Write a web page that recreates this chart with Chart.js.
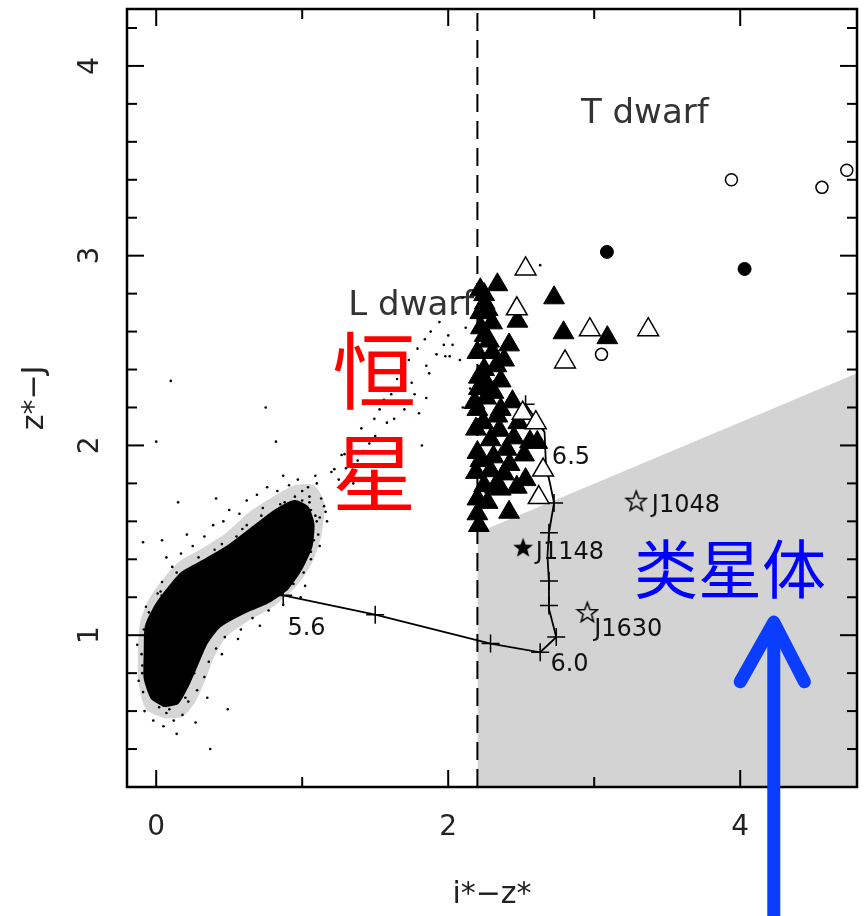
<!DOCTYPE html>
<html><head><meta charset="utf-8">
<script src="https://cdn.jsdelivr.net/npm/chart.js@4"></script>
<style>html,body{margin:0;padding:0;background:#fff}canvas{display:block}</style>
</head><body>
<canvas id="c" width="864" height="916"></canvas>
<script>
// ---------- data ----------
const xTickLabels = [0, 2, 4];
const xMinorTicks = [1, 3];
const yTickLabels = [1, 2, 3, 4];
const yMinorTicks = [0.4,0.6,0.8,1.2,1.4,1.6,1.8,2.2,2.4,2.6,2.8,3.2,3.4,3.6,3.8,4.2];
const xRange = [-0.2, 4.8];
const yRange = [0.2, 4.3];
const cutLine = [[2.2, 0.2], [2.2, 4.3]];
const quasarBoundary = [[2.2, 1.54], [4.8, 2.38]];

// dense core of the stellar locus
const stellarCloudOutline = [
 [0.058,0.625],[-0.031,0.667],[-0.079,0.772],[-0.079,0.903],[-0.072,1.045],[-0.017,1.140],
 [0.058,1.224],[0.174,1.329],[0.332,1.397],[0.503,1.476],[0.674,1.576],[0.810,1.655],
 [0.947,1.707],[1.036,1.676],[1.077,1.587],[1.063,1.466],[0.995,1.350],[0.899,1.245],
 [0.762,1.171],[0.591,1.114],[0.434,1.045],[0.345,0.956],[0.284,0.850],[0.215,0.730],
 [0.147,0.641],[0.058,0.625]
];
// sparse envelope around the core
const stellarCloudHalo = [
 [0.06,0.56],[-0.07,0.61],[-0.12,0.75],[-0.125,0.92],[-0.11,1.07],[-0.05,1.19],[0.04,1.29],
 [0.16,1.39],[0.32,1.46],[0.48,1.54],[0.64,1.65],[0.80,1.73],[0.95,1.79],[1.08,1.79],[1.15,1.70],
 [1.13,1.52],[1.06,1.37],[0.95,1.25],[0.80,1.15],[0.62,1.07],[0.48,0.99],[0.40,0.89],[0.34,0.77],
 [0.27,0.65],[0.18,0.57],[0.06,0.56]
];
const stellarScatter = [
 [-0.12,0.76],[-0.095,0.84],[-0.13,0.95],[-0.085,1.03],[-0.04,1.09],[-0.07,1.15],[0.01,1.22],[0.04,1.28],
 [0.11,1.36],[0.07,1.41],[0.17,1.43],[0.25,1.47],[0.21,1.53],[0.33,1.52],[0.39,1.58],[0.46,1.60],
 [0.50,1.66],[0.57,1.64],[0.62,1.71],[0.69,1.74],[0.76,1.78],[0.83,1.76],[0.91,1.79],[0.97,1.82],
 [1.04,1.78],[1.09,1.84],[1.13,1.72],[1.16,1.65],[1.11,1.53],[1.12,1.47],[1.06,1.40],[1.01,1.33],
 [0.94,1.27],[0.87,1.16],[0.77,1.13],[0.66,1.09],[0.58,1.03],[0.47,0.99],[0.41,0.93],[0.36,0.86],
 [0.33,0.78],[0.28,0.71],[0.22,0.65],[0.18,0.58],[0.12,0.55],[0.05,0.52],[-0.02,0.55],[-0.08,0.60],
 [0.27,0.54],[0.14,0.48],[0.30,1.00],[0.52,1.13],[0.45,0.90],[0.56,0.98],[0.71,1.05],[0.99,1.20],
 [1.05,1.52],[1.02,1.26],
 [-0.095,0.80],[-0.10,0.90],[-0.08,1.00],[-0.02,1.11],[0.05,1.20],[0.13,1.28],[0.25,1.36],[0.40,1.45],
 [0.55,1.52],[0.62,1.58],[0.72,1.63],[0.85,1.69],[0.95,1.73],[1.05,1.70],[1.10,1.60],[1.08,1.50],
 [1.01,1.40],[0.91,1.30],[0.80,1.22],[0.65,1.18],[0.52,1.13],[0.40,1.06],[0.32,0.97],[0.27,0.86],
 [0.21,0.75],[0.15,0.66],[0.09,0.61],[0.02,0.62],
 [-0.09,0.70],[0.07,0.59],[0.20,0.67],[0.26,0.80],[0.31,0.92],[0.44,1.09],[0.61,1.17],[0.83,1.25],
 [0.96,1.34],[1.06,1.44],[1.09,1.63],[1.00,1.71],[0.88,1.70],[0.73,1.67],[0.59,1.56],[0.45,1.48],
 [0.29,1.41],[0.14,1.33],[0.03,1.23],[-0.05,1.12],
 [1.06,1.66],[1.12,1.62],[1.15,1.68],[1.05,1.73],[1.00,1.76],[1.10,1.80],[1.20,1.86],[1.17,1.60],
 [1.22,1.875],[1.29,1.954],[1.32,2.03],[1.38,1.92],[1.405,2.09],[1.46,2.01],[1.494,2.14],[1.53,2.19],
 [1.56,2.24],[1.61,2.27],[1.65,2.35],[1.70,2.39],[1.73,2.45],[1.79,2.51],[1.84,2.56],[1.88,2.60],
 [1.94,2.65],[1.97,2.53],[1.63,2.14],[1.70,2.19],[1.77,2.27],[1.25,1.82],[1.30,1.88],[1.35,1.80],
 [1.27,1.95],[1.42,1.97],[1.50,2.05],[1.58,2.12],[1.66,2.22],[1.75,2.33],[1.85,2.42],[1.92,2.48],
 [2.00,2.58],[2.05,2.70],[2.10,2.78],[2.12,2.62],[2.08,2.45],[2.15,2.30],[2.10,2.20],[1.87,2.38],
 [2.01,2.47],[1.85,2.25],[1.80,2.17],[1.82,2.00],
 [0.10,2.34],[0.00,2.02],[0.75,2.20],[0.82,2.02],[0.15,1.70],[0.41,1.72],[0.87,1.84],[-0.09,1.49],
 [0.04,1.50],[0.35,0.67],[0.37,0.40],[0.49,0.61],[2.63,2.95],[2.03,2.53],[1.98,2.47]
];

const locusLine = [
 [0.09,1.21],[0.87,1.21],[1.50,1.108],[2.29,0.956],[2.63,0.91],[2.74,0.99],[2.72,1.05],[2.69,1.14],
 [2.69,1.28],[2.68,1.42],[2.69,1.54],[2.725,1.697],[2.70,1.79],[2.67,1.89],[2.66,2.07],[2.53,2.217]
];
const locusCrosses = [
 [0.09,1.21],[0.87,1.21],[1.50,1.108],[2.29,0.956],[2.63,0.91],[2.74,0.99],[2.69,1.157],[2.69,1.285],
 [2.69,1.54],[2.725,1.697],[2.53,2.217]
];
const lDwarfFilled = [
 [2.337,2.847],[2.246,2.795],[2.725,2.778],[2.27,2.716],[2.474,2.655],[2.30,2.646],[2.224,2.62],
 [2.79,2.594],[3.09,2.568],[2.417,2.53],[2.20,2.49],[2.303,2.49],[2.383,2.45],[2.246,2.40],[2.36,2.34],
 [2.21,2.30],[2.31,2.28],[2.18,2.226],[2.36,2.19],[2.20,2.19],[2.337,2.155],[2.19,2.086],[2.45,2.04],
 [2.29,2.03],[2.61,2.016],[2.20,1.963],[2.19,1.858],[2.29,1.867],[2.383,1.85],[2.53,1.82],[2.246,1.788],
 [2.36,1.77],[2.20,1.718],[2.417,1.648],[2.20,1.64],[2.21,1.578],
 [2.22,2.70],[2.25,2.58],[2.28,2.55],[2.21,2.36],[2.26,2.33],[2.33,2.42],[2.24,2.12],[2.26,2.25],
 [2.35,2.08],[2.22,1.92],[2.31,1.94],[2.27,1.70],[2.32,1.78],[2.42,1.90],[2.47,1.78],[2.40,1.98],
 [2.22,2.82],[2.25,2.75],[2.48,2.12],[2.52,1.95],[2.44,2.23],[2.56,2.02]
];
const lDwarfOpen = [
 [2.53,2.93],[2.47,2.72],[2.97,2.61],[3.37,2.61],[2.80,2.44],[2.51,2.17],[2.60,2.12],[2.65,1.87],[2.62,1.725]
];
const tDwarfFilled = [[3.087,3.02],[4.03,2.93]];
const tDwarfOpen = [[3.94,3.40],[4.56,3.36],[4.73,3.45],[3.05,2.48]];
const quasarOpenStars = [[3.288,1.709],[2.953,1.122]];
const quasarFilledStars = [[2.513,1.464]];

const pointLabels = [
 {text:'J1048', x:3.395, y:1.65},
 {text:'J1148', x:2.60,  y:1.40},
 {text:'J1630', x:3.00,  y:0.998},
 {text:'5.6',   x:0.899, y:1.00},
 {text:'6.0',   x:2.70,  y:0.81},
 {text:'6.5',   x:2.71,  y:1.90}
];
const regionLabels = [
 {text:'T dwarf', x:2.909, y:3.699},
 {text:'L dwarf', x:1.316, y:2.685}
];
const cnLabels = [
 {text:'恒', x:1.494, y:2.39, color:'#ff0000', size:84},
 {text:'星', x:1.494, y:1.854, color:'#ff0000', size:84},
 {text:'类星体', x:3.93, y:1.35, color:'#0000ff', size:64}
];
const arrowTip = [4.23, 1.09];
const arrowArms = [[4.0, 0.755], [4.44, 0.755]];

// ---------- helpers ----------
const pts = a => a.map(([x, y]) => ({x, y}));
function makeStar(size, filled) {
  const c = document.createElement('canvas');
  c.width = c.height = size;
  const g = c.getContext('2d');
  const cx = size / 2, cy = size / 2 + 1, R = size / 2 - 1.5, r = R * 0.42;
  g.beginPath();
  for (let i = 0; i < 10; i++) {
    const a = -Math.PI / 2 + i * Math.PI / 5;
    const rr = i % 2 ? r : R;
    const px = cx + rr * Math.cos(a), py = cy + rr * Math.sin(a);
    i ? g.lineTo(px, py) : g.moveTo(px, py);
  }
  g.closePath();
  if (filled) { g.fillStyle = '#000'; g.fill(); }
  else { g.lineWidth = 1.5; g.strokeStyle = '#000'; g.stroke(); }
  return c;
}
const openStar = makeStar(24, false);
const filledStar = makeStar(24, true);

const decor = {
  id: 'decor',
  beforeDatasetsDraw(chart) {
    const {ctx, scales: {x, y}} = chart;
    ctx.save();
    ctx.fillStyle = '#333';
    ctx.font = '34px "DejaVu Sans"';
    ctx.textAlign = 'left'; ctx.textBaseline = 'alphabetic';
    regionLabels.forEach(l => ctx.fillText(l.text, x.getPixelForValue(l.x), y.getPixelForValue(l.y)));
    ctx.restore();
  },
  afterDatasetsDraw(chart) {
    const {ctx, scales: {x, y}} = chart;
    ctx.save();
    ctx.fillStyle = '#111';
    ctx.font = '24px "DejaVu Sans"';
    ctx.textAlign = 'left'; ctx.textBaseline = 'alphabetic';
    pointLabels.forEach(l => ctx.fillText(l.text, x.getPixelForValue(l.x), y.getPixelForValue(l.y)));
    ctx.textAlign = 'center'; ctx.textBaseline = 'middle';
    cnLabels.forEach(l => {
      ctx.fillStyle = l.color;
      ctx.font = l.size + 'px "Noto Sans CJK SC"';
      ctx.fillText(l.text, x.getPixelForValue(l.x), y.getPixelForValue(l.y));
    });
    ctx.restore();
  },
  afterDraw(chart) {
    const {ctx, chartArea: {left, right, top, bottom}, scales: {x, y}} = chart;
    ctx.save();
    ctx.strokeStyle = '#000';
    ctx.lineWidth = 2;
    const tick = (x1, y1, x2, y2) => { ctx.beginPath(); ctx.moveTo(x1, y1); ctx.lineTo(x2, y2); ctx.stroke(); };
    xTickLabels.forEach(v => { const p = x.getPixelForValue(v); tick(p, bottom, p, bottom - 17); tick(p, top, p, top + 17); });
    xMinorTicks.forEach(v => { const p = x.getPixelForValue(v); tick(p, bottom, p, bottom - 10); tick(p, top, p, top + 10); });
    yTickLabels.forEach(v => { const p = y.getPixelForValue(v); tick(left, p, left + 17, p); tick(right, p, right - 17, p); });
    yMinorTicks.forEach(v => { const p = y.getPixelForValue(v); tick(left, p, left + 10, p); tick(right, p, right - 10, p); });
    ctx.lineWidth = 2.5;
    ctx.strokeRect(left, top, right - left, bottom - top);
    // blue arrow
    const tx = x.getPixelForValue(arrowTip[0]), ty = y.getPixelForValue(arrowTip[1]);
    ctx.strokeStyle = '#0a3dff';
    ctx.lineWidth = 13; ctx.lineCap = 'round'; ctx.lineJoin = 'round';
    ctx.beginPath();
    ctx.moveTo(x.getPixelForValue(arrowArms[0][0]), y.getPixelForValue(arrowArms[0][1]));
    ctx.lineTo(tx, ty + 4);
    ctx.lineTo(x.getPixelForValue(arrowArms[1][0]), y.getPixelForValue(arrowArms[1][1]));
    ctx.stroke();
    ctx.lineCap = 'butt';
    ctx.beginPath(); ctx.moveTo(tx, ty + 8); ctx.lineTo(tx, chart.height + 5); ctx.stroke();
    ctx.restore();
  }
};

new Chart(document.getElementById('c'), {
  type: 'line',
  data: {
    datasets: [
      {data: pts(quasarBoundary), order: 10, borderWidth: 0, pointRadius: 0, fill: 'start', backgroundColor: '#d3d3d3', borderColor: 'rgba(0,0,0,0)'},
      {data: pts(cutLine), order: 9, borderWidth: 2, borderDash: [18, 9], borderColor: '#000', pointRadius: 0, fill: false},
      {data: pts(stellarCloudHalo), order: 8.5, borderWidth: 0, borderColor: 'rgba(0,0,0,0)', backgroundColor: 'rgba(0,0,0,0.16)', pointRadius: 0, fill: 'shape', tension: 0.25},
      {data: pts(stellarCloudOutline), order: 8, borderWidth: 2, borderColor: '#000', backgroundColor: '#000', pointRadius: 0, fill: 'shape', tension: 0.2},
      {data: pts(stellarScatter), order: 7, showLine: false, pointRadius: 1.3, pointBorderWidth: 0, pointBackgroundColor: '#000'},
      {data: pts(locusLine), order: 6, borderWidth: 1.8, borderColor: '#000', pointRadius: 0, fill: false},
      {data: pts(locusCrosses), order: 5, showLine: false, pointStyle: 'cross', pointRadius: 9, pointBorderWidth: 1.5, pointBorderColor: '#000'},
      {data: pts(lDwarfFilled), order: 4, showLine: false, pointStyle: 'triangle', pointRadius: 12, pointBorderWidth: 1, pointBorderColor: '#000', pointBackgroundColor: '#000'},
      {data: pts(lDwarfOpen), order: 3, showLine: false, pointStyle: 'triangle', pointRadius: 12, pointBorderWidth: 1.5, pointBorderColor: '#000', pointBackgroundColor: '#fff'},
      {data: pts(tDwarfFilled), order: 2, showLine: false, pointStyle: 'circle', pointRadius: 6.5, pointBorderWidth: 1, pointBorderColor: '#000', pointBackgroundColor: '#000'},
      {data: pts(tDwarfOpen), order: 2, showLine: false, pointStyle: 'circle', pointRadius: 6, pointBorderWidth: 1.5, pointBorderColor: '#000', pointBackgroundColor: '#fff'},
      {data: pts(quasarOpenStars), order: 1, showLine: false, pointStyle: openStar, pointRadius: 11},
      {data: pts(quasarFilledStars), order: 1, showLine: false, pointStyle: filledStar, pointRadius: 11}
    ]
  },
  options: {
    responsive: false, animation: false, devicePixelRatio: 1, events: [],
    layout: {autoPadding: false, padding: {left: 0, right: 7, top: 9, bottom: 0}},
    plugins: {legend: {display: false}, tooltip: {enabled: false}},
    scales: {
      x: {
        type: 'linear', min: xRange[0], max: xRange[1],
        grid: {display: false, drawTicks: false}, border: {display: false},
        afterBuildTicks: s => { s.ticks = xTickLabels.map(v => ({value: v})); },
        afterFit: s => { s.height = 129; s.paddingLeft = 0; s.paddingRight = 0; s.paddingTop = 0; s.paddingBottom = 0; },
        ticks: {padding: 24, color: '#222', autoSkip: false, maxRotation: 0, font: {family: 'DejaVu Sans', size: 28}, callback: v => String(v)},
        title: {display: true, text: 'i*−z*', color: '#222', font: {family: 'DejaVu Sans', size: 30}, padding: {top: 0, bottom: 3}}
      },
      y: {
        type: 'linear', min: yRange[0], max: yRange[1],
        grid: {display: false, drawTicks: false}, border: {display: false},
        afterBuildTicks: s => { s.ticks = yTickLabels.map(v => ({value: v})); },
        afterFit: s => { s.width = 127; s.paddingLeft = 0; s.paddingRight = 0; s.paddingTop = 0; s.paddingBottom = 0; },
        ticks: {padding: 27, color: '#222', autoSkip: false, minRotation: 90, maxRotation: 90, crossAlign: 'center', font: {family: 'DejaVu Sans', size: 28}, callback: v => String(v)},
        title: {display: true, text: 'z*−J', color: '#222', font: {family: 'DejaVu Sans', size: 30}, padding: {top: 17, bottom: 0}}
      }
    }
  },
  plugins: [decor]
});
</script>
</body></html>
